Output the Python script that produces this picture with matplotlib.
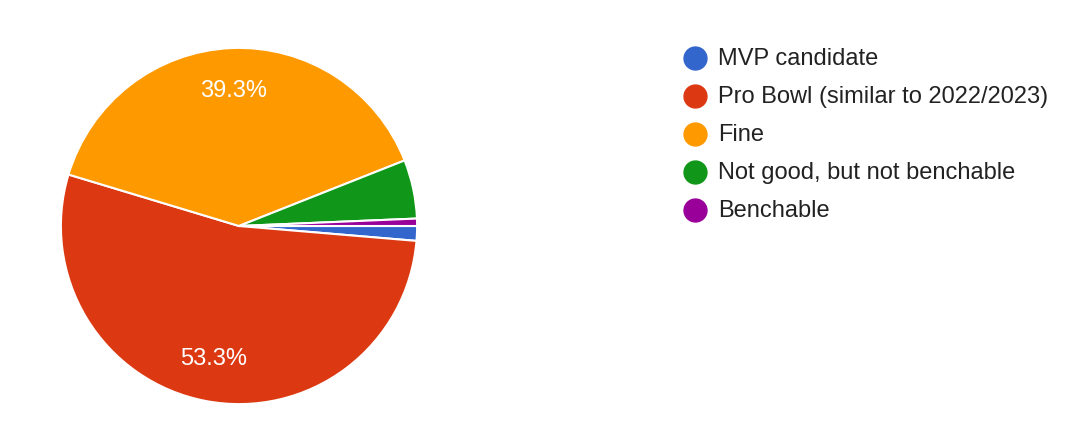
import matplotlib
matplotlib.use('Agg')
import matplotlib.pyplot as plt

# Survey answers (response counts)
labels = ['MVP candidate', 'Pro Bowl (similar to 2022/2023)', 'Fine',
          'Not good, but not benchable', 'Benchable']
counts = [2, 80, 59, 8, 1]
colors = ['#3366cc', '#dc3912', '#ff9900', '#109618', '#990099']

plt.rcParams['font.family'] = ['Liberation Sans', 'DejaVu Sans']

W, H = 1076, 432
fig = plt.figure(figsize=(W / 100, H / 100), dpi=100)

# pie centre ~(239, 226) px, radius ~179 px
cx, cy, r = 239, H - 226, 179
ax = fig.add_axes([(cx - r) / W, (cy - r) / H, 2 * r / W, 2 * r / H])


def pct_label(p):
    return f'{p:.1f}%' if p > 10 else ''


wedges, texts, autotexts = ax.pie(
    counts, colors=colors, startangle=0, counterclock=False,
    autopct=pct_label, pctdistance=0.76,
    wedgeprops=dict(edgecolor='white', linewidth=1.5),
    textprops=dict(color='white', fontsize=17))
ax.set_xlim(-1.005, 1.005)
ax.set_ylim(-1.005, 1.005)
ax.set_aspect('equal')

# legend drawn by hand in pixel coordinates
leg = fig.add_axes([0, 0, 1, 1])
leg.set_xlim(0, W)
leg.set_ylim(H, 0)
leg.axis('off')
for i, (lab, c) in enumerate(zip(labels, colors)):
    y = 58 + 38 * i
    leg.plot([695], [y], marker='o', markersize=16.5, color=c,
             linestyle='none')
    leg.text(718, y + 1, lab, fontsize=17, color='#222222',
             va='center', ha='left')

fig.savefig('out.png', dpi=100, facecolor='white')
